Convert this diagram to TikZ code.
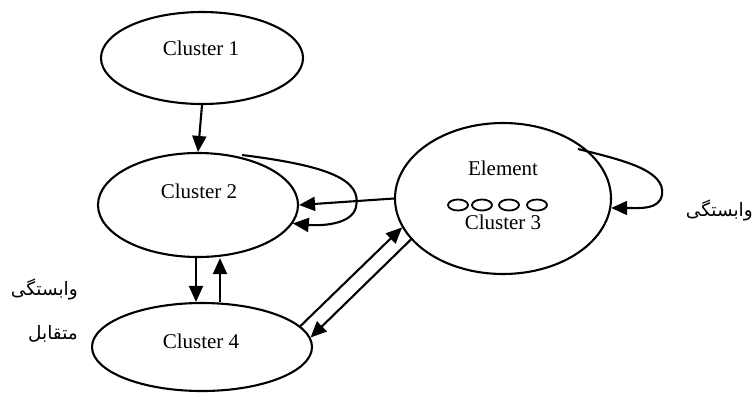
\documentclass[tikz,border=0pt]{standalone}
\usepackage{fontspec}
\setmainfont{Liberation Serif}
\newfontfamily\arabicfont[Script=Arabic]{DejaVu Sans}
\TeXXeTstate=1
\usetikzlibrary{arrows.meta,shapes.geometric}

\begin{document}
\begin{tikzpicture}[x=1pt, y=-1pt, > = {Triangle[length=16pt,width=14pt]},
    cluster/.style = {draw, ellipse, line width=2.1pt, inner sep=0pt},
    txt/.style = {inner sep=0pt, font=\fontsize{21}{25}\selectfont},
    fa/.style = {inner sep=0pt, font=\arabicfont\fontsize{18.5}{22}\selectfont},
    link/.style = {line width=2.1pt, ->}]

    \useasboundingbox (0,0) rectangle (755,394);

    % clusters
    \node[cluster, minimum width=202pt, minimum height=92pt] (c1) at (202,58) {};
    \node[cluster, minimum width=200pt, minimum height=104pt] (c2) at (198,205) {};
    \node[cluster, minimum width=216pt, minimum height=151pt] (c3) at (503,198.5) {};
    \node[cluster, minimum width=220pt, minimum height=88pt] (c4) at (202,347) {};

    \node[txt] (t1) at (201,48) {Cluster 1};
    \node[txt] (t2) at (199,191) {Cluster 2};
    \node[txt] (el) at (503,168) {Element};
    \node[txt] (t3) at (503,222) {Cluster 3};
    \node[txt] (t4) at (201,341) {Cluster 4};

    % elements
    \foreach \x in {458,482,509,537}
        \draw[line width=1.8pt] (\x,205) ellipse (10pt and 5.5pt);

    % links
    \draw[link] (c1.south) -- (c2.north);
    \draw[link] (c3.west) -- (c2.east);
    \draw[link] ([xshift=-2pt]c2.south) -- ([xshift=-2pt]c2.south |- c4.north);
    \draw[link] ([xshift=22pt]c2.south |- c4.north) -- ([xshift=22pt]c2.south);
    \draw[link] (c4.12) -- (c3.196);
    \draw[link] (c3.204) -- (c4.5);

    % loops
    \draw[link] (242,155) .. controls (330,166) and (362,180) .. (356,207)
        .. controls (352,225) and (320,226) .. (c2.-11);
    \draw[link] (578,149) .. controls (622,160) and (666,170) .. (662,195)
        .. controls (659,210) and (640,208) .. (c3.-5);

    % labels
    \node[fa, anchor=east] (dep) at (753,210) {\beginR وابستگی\endR};
    \node[fa, anchor=east] (mut1) at (78,289) {\beginR وابستگی\endR};
    \node[fa, anchor=east] (mut2) at (78,334) {\beginR متقابل\endR};

\end{tikzpicture}
\end{document}
